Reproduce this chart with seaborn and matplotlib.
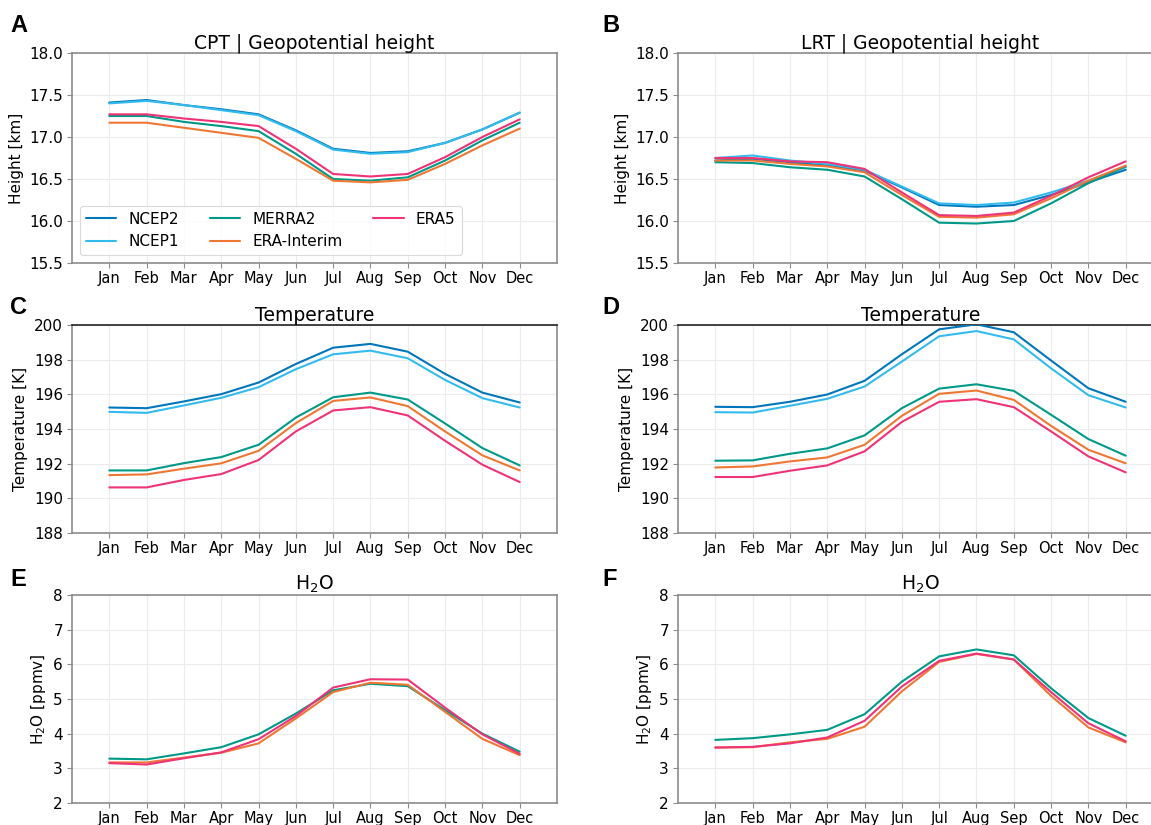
import numpy as np
import pandas as pd
import matplotlib
matplotlib.use("Agg")
import matplotlib.pyplot as plt
import seaborn as sns

months = ["Jan", "Feb", "Mar", "Apr", "May", "Jun", "Jul", "Aug", "Sep", "Oct", "Nov", "Dec"]
datasets = ["NCEP2", "NCEP1", "MERRA2", "ERA-Interim", "ERA5"]
colors = {"NCEP2": "#0077BB", "NCEP1": "#33BBEE", "MERRA2": "#009988",
          "ERA-Interim": "#EE7733", "ERA5": "#EE3377"}

# Panel A: CPT geopotential height [km]
cpt_h_ncep2 = [17.41, 17.44, 17.38, 17.33, 17.27, 17.08, 16.86, 16.81, 16.83, 16.93, 17.09, 17.29]
cpt_h_ncep1 = [17.40, 17.43, 17.38, 17.32, 17.26, 17.07, 16.85, 16.80, 16.82, 16.93, 17.09, 17.29]
cpt_h_merra2 = [17.25, 17.25, 17.18, 17.13, 17.07, 16.80, 16.50, 16.48, 16.52, 16.72, 16.96, 17.17]
cpt_h_erai = [17.17, 17.17, 17.11, 17.05, 16.99, 16.74, 16.48, 16.46, 16.49, 16.68, 16.90, 17.10]
cpt_h_era5 = [17.27, 17.27, 17.22, 17.18, 17.13, 16.86, 16.56, 16.53, 16.56, 16.76, 17.00, 17.21]

# Panel B: LRT geopotential height [km]
lrt_h_ncep2 = [16.72, 16.74, 16.70, 16.66, 16.60, 16.40, 16.19, 16.17, 16.19, 16.31, 16.46, 16.61]
lrt_h_ncep1 = [16.75, 16.78, 16.72, 16.68, 16.61, 16.41, 16.21, 16.19, 16.22, 16.34, 16.48, 16.64]
lrt_h_merra2 = [16.70, 16.69, 16.64, 16.61, 16.53, 16.26, 15.98, 15.97, 16.00, 16.21, 16.45, 16.65]
lrt_h_erai = [16.72, 16.72, 16.68, 16.65, 16.58, 16.31, 16.05, 16.04, 16.08, 16.27, 16.48, 16.66]
lrt_h_era5 = [16.75, 16.75, 16.71, 16.70, 16.62, 16.34, 16.07, 16.06, 16.10, 16.30, 16.52, 16.71]

# Panel C: CPT temperature [K]
cpt_t_ncep2 = [195.24, 195.20, 195.59, 196.01, 196.68, 197.75, 198.69, 198.91, 198.46, 197.18, 196.10, 195.53]
cpt_t_ncep1 = [194.99, 194.93, 195.36, 195.80, 196.41, 197.45, 198.31, 198.52, 198.08, 196.83, 195.78, 195.24]
cpt_t_merra2 = [191.61, 191.61, 192.03, 192.38, 193.09, 194.66, 195.83, 196.10, 195.70, 194.32, 192.90, 191.90]
cpt_t_erai = [191.34, 191.38, 191.71, 192.02, 192.74, 194.34, 195.62, 195.82, 195.32, 193.86, 192.48, 191.61]
cpt_t_era5 = [190.63, 190.63, 191.06, 191.40, 192.21, 193.86, 195.07, 195.26, 194.78, 193.32, 191.94, 190.94]

# Panel D: LRT temperature [K]
lrt_t_ncep2 = [195.28, 195.26, 195.57, 195.99, 196.78, 198.31, 199.75, 200.04, 199.58, 197.95, 196.35, 195.57]
lrt_t_ncep1 = [194.97, 194.95, 195.34, 195.74, 196.45, 197.89, 199.35, 199.65, 199.17, 197.50, 195.95, 195.24]
lrt_t_merra2 = [192.17, 192.19, 192.57, 192.88, 193.63, 195.20, 196.33, 196.58, 196.20, 194.82, 193.42, 192.46]
lrt_t_erai = [191.78, 191.84, 192.13, 192.36, 193.09, 194.76, 196.03, 196.22, 195.68, 194.18, 192.80, 192.02]
lrt_t_era5 = [191.23, 191.23, 191.59, 191.90, 192.71, 194.41, 195.57, 195.72, 195.26, 193.86, 192.42, 191.50]

# Panel E: CPT H2O [ppmv]
cpt_w_merra2 = [3.28, 3.26, 3.43, 3.61, 3.98, 4.58, 5.25, 5.44, 5.37, 4.68, 4.00, 3.48]
cpt_w_erai = [3.17, 3.17, 3.31, 3.45, 3.72, 4.44, 5.20, 5.47, 5.41, 4.63, 3.85, 3.38]
cpt_w_era5 = [3.15, 3.11, 3.29, 3.46, 3.84, 4.51, 5.33, 5.57, 5.56, 4.75, 3.98, 3.42]

# Panel F: LRT H2O [ppmv]
lrt_w_merra2 = [3.82, 3.87, 3.98, 4.11, 4.56, 5.50, 6.23, 6.43, 6.26, 5.31, 4.45, 3.94]
lrt_w_erai = [3.60, 3.61, 3.75, 3.85, 4.20, 5.22, 6.07, 6.30, 6.14, 5.09, 4.18, 3.75]
lrt_w_era5 = [3.60, 3.62, 3.72, 3.89, 4.37, 5.36, 6.10, 6.31, 6.14, 5.20, 4.30, 3.78]


def frame(series):
    rows = []
    for name, vals in series.items():
        for i, v in enumerate(vals):
            rows.append({"month": i + 1, "value": v, "dataset": name})
    return pd.DataFrame(rows)


panels = [
    ("A", "CPT | Geopotential height", "Height [km]", (15.5, 18.0), np.arange(15.5, 18.01, 0.5), "{:.1f}",
     {"NCEP2": cpt_h_ncep2, "NCEP1": cpt_h_ncep1, "MERRA2": cpt_h_merra2, "ERA-Interim": cpt_h_erai, "ERA5": cpt_h_era5}),
    ("B", "LRT | Geopotential height", "Height [km]", (15.5, 18.0), np.arange(15.5, 18.01, 0.5), "{:.1f}",
     {"NCEP2": lrt_h_ncep2, "NCEP1": lrt_h_ncep1, "MERRA2": lrt_h_merra2, "ERA-Interim": lrt_h_erai, "ERA5": lrt_h_era5}),
    ("C", "Temperature", "Temperature [K]", (188, 200), np.arange(188, 201, 2), "{:.0f}",
     {"NCEP2": cpt_t_ncep2, "NCEP1": cpt_t_ncep1, "MERRA2": cpt_t_merra2, "ERA-Interim": cpt_t_erai, "ERA5": cpt_t_era5}),
    ("D", "Temperature", "Temperature [K]", (188, 200), np.arange(188, 201, 2), "{:.0f}",
     {"NCEP2": lrt_t_ncep2, "NCEP1": lrt_t_ncep1, "MERRA2": lrt_t_merra2, "ERA-Interim": lrt_t_erai, "ERA5": lrt_t_era5}),
    ("E", "H$_2$O", "H$_2$O [ppmv]", (2, 8), np.arange(2, 9, 1), "{:.0f}",
     {"MERRA2": cpt_w_merra2, "ERA-Interim": cpt_w_erai, "ERA5": cpt_w_era5}),
    ("F", "H$_2$O", "H$_2$O [ppmv]", (2, 8), np.arange(2, 9, 1), "{:.0f}",
     {"MERRA2": lrt_w_merra2, "ERA-Interim": lrt_w_erai, "ERA5": lrt_w_era5}),
]

sns.set_style("white")
plt.rcParams["font.family"] = ["DejaVu Sans"]
plt.rcParams["text.color"] = "black"
plt.rcParams["axes.labelcolor"] = "black"
plt.rcParams["xtick.color"] = "black"
plt.rcParams["ytick.color"] = "black"

W, H = 1151, 825
fig = plt.figure(figsize=(W / 100, H / 100), dpi=100)

col_x = [72 / W, 678 / W]
ax_w = 485 / W
rows_y = [(53, 263), (325, 533), (595, 803)]
letter_pos = [(10, 14), (602, 14), (10, 296), (602, 296), (10, 568), (602, 568)]

spine_col = "#8c8c8c"
for k, (letter, title, ylabel, ylim, yticks, fmt, series) in enumerate(panels):
    r, c = divmod(k, 2)
    top, bot = rows_y[r]
    ax = fig.add_axes([col_x[c], 1 - bot / H, ax_w, (bot - top) / H])
    df = frame(series)
    sns.lineplot(data=df, x="month", y="value", hue="dataset", hue_order=list(series.keys()),
                 palette=colors, linewidth=1.5, ax=ax, legend=(k == 0), zorder=3)
    ax.set_xlim(0, 13)
    ax.set_ylim(*ylim)
    ax.set_xticks(range(1, 13))
    ax.set_xticklabels(months, fontsize=10.5)
    ax.set_yticks(yticks)
    ax.set_yticklabels([fmt.format(v) for v in yticks], fontsize=11)
    ax.set_xlabel("")
    ax.set_ylabel(ylabel, fontsize=11, labelpad=4)
    ax.set_title(title, fontsize=13.5, pad=3)
    ax.grid(True, color="#ececec", linewidth=0.8, zorder=0)
    ax.set_axisbelow(True)
    ax.tick_params(axis="both", which="both", length=3.5, width=0.8, color=spine_col,
                   left=True, bottom=True)
    ax.tick_params(axis="x", pad=2)
    ax.tick_params(axis="y", pad=3)
    for name, sp in ax.spines.items():
        sp.set_color(spine_col)
        sp.set_linewidth(1.2)
    if letter in ("C", "D"):
        ax.spines["top"].set_color("#222222")
    if k == 0:
        leg = ax.legend(title=None, ncol=3, loc="lower left", fontsize=11,
                        frameon=True, handlelength=2.0, columnspacing=2.0,
                        borderaxespad=0.5)
        leg.get_frame().set_edgecolor("#d0d0d0")
        leg.get_frame().set_linewidth(0.8)
    lx, ly = letter_pos[k]
    fig.text(lx / W, 1 - ly / H, letter, fontsize=17, fontweight="bold",
             family="Liberation Sans", va="top", ha="left")

fig.savefig("out.png", dpi=100)
